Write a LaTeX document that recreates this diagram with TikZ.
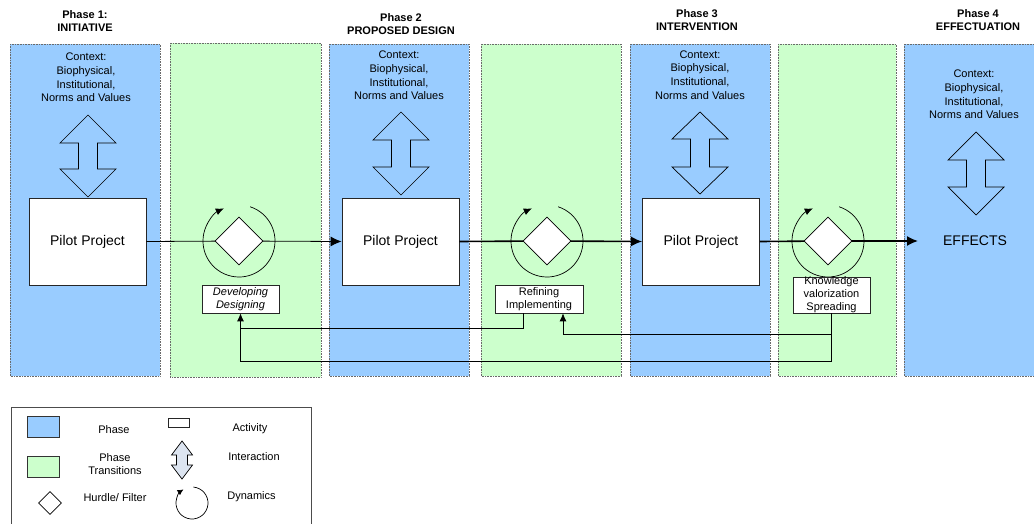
\documentclass[tikz,border=0pt]{standalone}
\usepackage{fontspec}
\setmainfont{Liberation Sans}
\usetikzlibrary{shapes.geometric,arrows.meta,calc}
\definecolor{phaseblue}{HTML}{99CCFF}
\definecolor{transgreen}{HTML}{CCFFCC}
\definecolor{panelborder}{HTML}{6A6A6A}
\definecolor{interfill}{HTML}{DCE4F0}
\tikzset{
  pics/dblarrow/.style args={#1/#2/#3/#4}{code={
    \draw[pic actions] (0,0) -- (#2,#4) -- (#3,#4) -- (#3,{#1-#4}) -- (#2,{#1-#4}) -- (0,#1)
      -- (-#2,{#1-#4}) -- (-#3,{#1-#4}) -- (-#3,#4) -- (-#2,#4) -- cycle;
  }}
}
\begin{document}
\begin{tikzpicture}[x=1pt,y=-1pt,
  phase/.style={fill=phaseblue,draw=panelborder,densely dotted,line width=0.6pt},
  trans/.style={fill=transgreen,draw=panelborder,densely dotted,line width=0.6pt},
  title/.style={font=\fontsize{11}{13}\selectfont\bfseries,align=center,inner sep=0},
  ctx/.style={font=\fontsize{11}{13.7}\selectfont,align=center,inner sep=0},
  pilot/.style={draw=black!85,fill=white,minimum width=117pt,minimum height=87pt,
    font=\fontsize{14}{16}\selectfont,inner sep=0,line width=0.8pt},
  hurdle/.style={diamond,draw,fill=white,minimum width=48pt,minimum height=48pt,
    inner sep=0,aspect=1,line width=0.7pt},
  activity/.style={draw=black!85,fill=white,align=center,inner sep=0,line width=0.7pt,
    font=\fontsize{11}{13}\selectfont},
  flow/.style={line width=0.8pt},
  boldflow/.style={line width=1.6pt},
  tip/.style={-{Latex[length=11pt,width=10pt]}},
  fb/.style={line width=0.8pt},
  fbtip/.style={-{Latex[length=8pt,width=7pt]}},
  dyn/.style={line width=0.7pt,-{Latex[length=8pt,width=7pt]}},
  legtext/.style={font=\fontsize{11}{13.5}\selectfont,align=center,inner sep=0},
  iarrow/.style={draw,line width=0.7pt},
]
\useasboundingbox (0,0) rectangle (1034,524);

% panels
\draw[phase] (10,44) rectangle (160,376);
\draw[trans] (170,43) rectangle (321,377);
\draw[phase] (329,44) rectangle (469,376);
\draw[trans] (481,44) rectangle (621,376);
\draw[phase] (630,44) rectangle (770,376);
\draw[trans] (778,44) rectangle (896,376);
\draw[phase] (904,44) rectangle (1040,376);

% titles
\node[title] (t1) at (85,21.5) {Phase 1:\\INITIATIVE};
\node[title] (t2) at (401,24.5) {Phase 2\\PROPOSED DESIGN};
\node[title] (t3) at (697,20.5) {Phase 3\\INTERVENTION};
\node[title] (t4) at (978,20.5) {Phase 4\\EFFECTUATION};

% context
\node[ctx] (c1) at (86,77.5) {Context:\\Biophysical,\\Institutional,\\Norms and Values};
\node[ctx] (c2) at (399,75.5) {Context:\\Biophysical,\\Institutional,\\Norms and Values};
\node[ctx] (c3) at (700,75) {Context:\\Biophysical,\\Institutional,\\Norms and Values};
\node[ctx] (c4) at (974,94.5) {Context:\\Biophysical,\\Institutional,\\Norms and Values};

% interaction arrows
\pic[iarrow] at (88,115) {dblarrow={82/28/9.5/28}};
\pic[iarrow] at (401,112) {dblarrow={83/28/9.5/28}};
\pic[iarrow] at (700,112) {dblarrow={82/28/9.5/27}};
\pic[iarrow] at (976,132) {dblarrow={83/28/9.5/28}};

% pilot projects
\node[pilot] (p1) at (87.5,241.5) {Pilot Project};
\node[pilot] (p2) at (400.5,241.5) {Pilot Project};
\node[pilot] (p3) at (701,241.5) {Pilot Project};
\node[font=\fontsize{14}{16}\selectfont,inner sep=0] (eff) at (975,241) {EFFECTS};
\coordinate (effin) at (918,241);

% dynamics and hurdles
\coordinate (o1) at (239,241);
\coordinate (o2) at (547,241);
\coordinate (o3) at (828,241);
\foreach \o in {o1,o2,o3}{
  \draw[dyn] ([shift={(72:36pt)}]\o) arc[start angle=72, end angle=-245, radius=36pt];
}

\draw[flow] (p1.east) -- (o1);
\draw[flow,tip] (o1) -- (p2.west);
\draw[boldflow] (p2.east) -- (o2);
\draw[boldflow,tip] (o2) -- (p3.west);
\draw[boldflow] (p3.east) -- (o3);
\draw[boldflow,tip] (o3) -- (effin);

\node[hurdle] (d1) at (o1) {};
\node[hurdle] (d2) at (o2) {};
\node[hurdle] (d3) at (o3) {};

% activities
\node[activity,minimum width=77pt,minimum height=28pt] (dd) at (240.5,299) {\itshape Developing\\\itshape Designing};
\node[activity,minimum width=88pt,minimum height=28pt] (ri) at (539,299) {Refining\\Implementing};
\node[activity,minimum width=77pt,minimum height=36pt] (kv) at (831.5,295) {Knowledge\\valorization\\Spreading};

% feedback
\coordinate (low) at (0,361);
\coordinate (mid) at (0,334);
\coordinate (mid2) at (0,328);
\draw[fb,fbtip] (kv.south) -- (kv.south |- low) -| (dd.south);
\draw[fb,fbtip] (kv.south |- mid) -| ([xshift=24pt]ri.south);
\draw[fb] ([xshift=-16pt]ri.south) |- (dd.south |- mid2);

% legend
\draw[draw=black!70,line width=1pt] (11,530) -- (11,407) -- (311,407) -- (311,530);
\node[draw=black!80,fill=phaseblue,minimum width=32pt,minimum height=21pt,inner sep=0,line width=0.7pt] (lphase) at (43,426.5) {};
\node[legtext] (lphaset) at (114,430) {Phase};
\node[draw=black!80,fill=transgreen,minimum width=32pt,minimum height=21pt,inner sep=0,line width=0.7pt] (ltrans) at (43,466.5) {};
\node[legtext] (ltranst) at (115,464) {Phase\\Transitions};
\node[diamond,draw,fill=white,minimum width=23pt,minimum height=23pt,inner sep=0,aspect=1,line width=0.7pt] (lhurdle) at (50,503) {};
\node[legtext] (lhurdlet) at (115,498) {Hurdle/ Filter};
\node[draw=black!85,fill=white,minimum width=21pt,minimum height=9pt,inner sep=0,line width=0.7pt] (lact) at (178.5,422.5) {};
\node[legtext] (lactt) at (250,429) {Activity};
\pic[iarrow,fill=interfill] at (182,441) {dblarrow={38/10.5/5.5/14}};
\node[legtext] (lintt) at (254,457) {Interaction};
\coordinate (ldyn) at (192,503);
\draw[dyn,-{Latex[length=6pt,width=6pt]}] ([shift={(85:16pt)}]ldyn) arc[start angle=85, end angle=-238, radius=16pt];
\node[legtext] (ldynt) at (251.5,497) {Dynamics};
\end{tikzpicture}
\end{document}
